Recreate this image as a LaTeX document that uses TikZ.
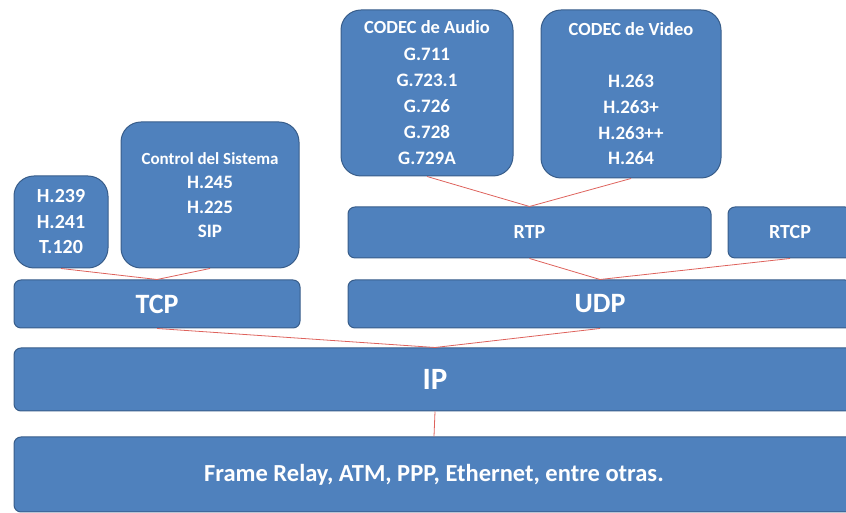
\documentclass[tikz,border=0pt]{standalone}
\usepackage{fontspec}
\setmainfont{Carlito}
\definecolor{boxblue}{RGB}{79,129,189}
\definecolor{boxedge}{RGB}{56,93,138}
\definecolor{linkred}{RGB}{222,98,92}
\begin{document}
\begin{tikzpicture}[x=1pt, y=1pt,
        layer/.style={draw=boxedge, fill=boxblue, rounded corners=7pt, line width=1pt, text=white, inner sep=0pt, align=center},
        stack/.style={layer, rounded corners=20pt},
        link/.style={draw=linkred, line width=0.8pt}
    ]
        \useasboundingbox (0,0) rectangle (846,513);
        \clip (0,0) rectangle (846,513);

        \node[stack, minimum width=94pt, minimum height=92pt, font=\bfseries\fontsize{20}{25.5}\selectfont] (misc) at (61,291) {H.239\\H.241\\T.120};
        \node[stack, minimum width=178pt, minimum height=146pt, font=\bfseries\fontsize{19}{24.5}\selectfont] (control) at (210,318)
            {{\fontsize{17}{24.5}\selectfont Control del Sistema}\\H.245\\H.225\\SIP};
        \node[stack, minimum width=172pt, minimum height=166pt, font=\bfseries\fontsize{19}{26.2}\selectfont] (audio) at (427,420)
            {{\fontsize{18.5}{26.2}\selectfont CODEC de Audio}\\G.711\\G.723.1\\G.726\\G.728\\G.729A};
        \node[stack, minimum width=180pt, minimum height=168pt, font=\bfseries\fontsize{19}{25.8}\selectfont] (video) at (631,419)
            {{\fontsize{18.5}{25.8}\selectfont CODEC de Video}\\ \\H.263\\H.263+\\H.263++\\H.264};

        \node[layer, minimum width=363pt, minimum height=51pt, font=\bfseries\fontsize{20}{24}\selectfont] (rtp) at (529.5,280.5) {RTP};
        \node[layer, minimum width=124pt, minimum height=51pt, font=\bfseries\fontsize{20}{24}\selectfont] (rtcp) at (790,280.5) {RTCP};
        \node[layer, minimum width=286pt, minimum height=48pt, font=\bfseries\fontsize{28}{32}\selectfont] (tcp) at (157,209) {TCP};
        \node[layer, minimum width=504pt, minimum height=48pt, font=\bfseries\fontsize{28}{32}\selectfont] (udp) at (600,209) {UDP};
        \node[layer, minimum width=842pt, minimum height=63pt, font=\bfseries\fontsize{31}{36}\selectfont] (ip) at (435,133.5) {IP};
        \node[layer, minimum width=840pt, minimum height=75pt, font=\bfseries\fontsize{24.5}{27}\selectfont] (frame) at (434,38.5) {Frame Relay, ATM, PPP, Ethernet, entre otras.};

        \draw[link] (misc.south) -- (tcp.north);
        \draw[link] (control.south) -- (tcp.north);
        \draw[link] (audio.south) -- (rtp.north);
        \draw[link] (video.south) -- (rtp.north);
        \draw[link] (rtp.south) -- (udp.north);
        \draw[link] (rtcp.south) -- (udp.north);
        \draw[link] (tcp.south) -- (ip.north);
        \draw[link] (udp.south) -- (ip.north);
        \draw[link] (ip.south) -- (frame.north);
    \end{tikzpicture}
\end{document}
